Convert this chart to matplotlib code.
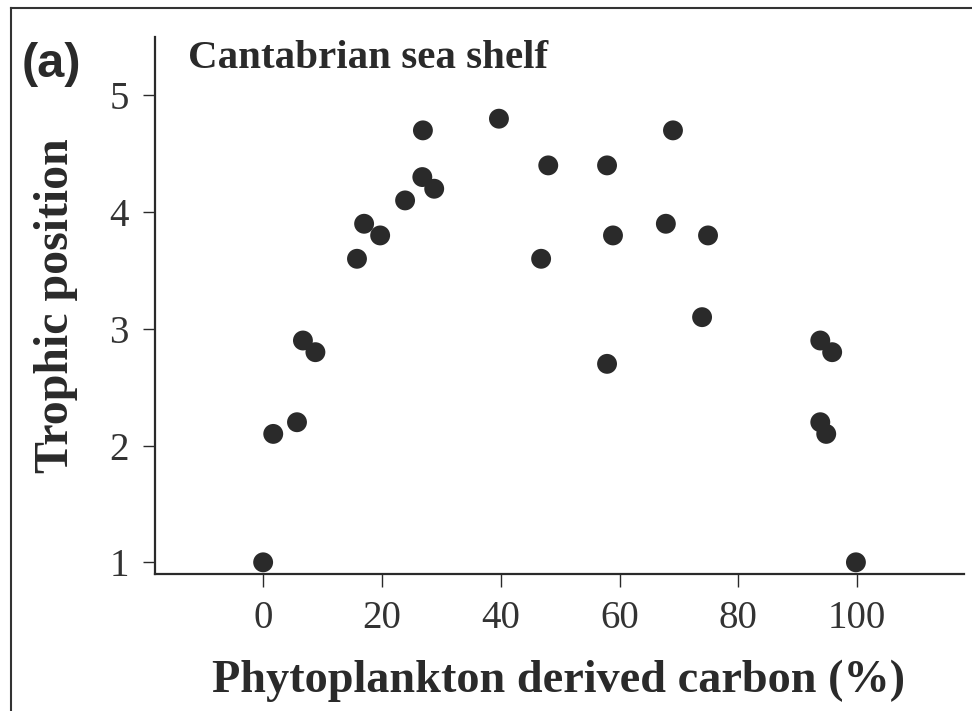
import matplotlib
matplotlib.use('Agg')
import matplotlib.pyplot as plt
from matplotlib.lines import Line2D

# ── Data ──────────────────────────────────────────────────────────────────────
phyto_carbon = [0, 1.7, 5.7, 6.7, 8.8, 15.8, 17.0, 19.7, 23.9, 26.9, 26.8, 28.8,
                39.7, 48.0, 57.9, 69.0, 46.8, 58.9, 67.8, 74.9, 73.9, 57.9,
                93.8, 95.8, 93.8, 94.8, 99.8]
trophic_pos = [1.0, 2.1, 2.2, 2.9, 2.8, 3.6, 3.9, 3.8, 4.1, 4.7, 4.3, 4.2,
               4.8, 4.4, 4.4, 4.7, 3.6, 3.8, 3.9, 3.8, 3.1, 2.7,
               2.9, 2.8, 2.2, 2.1, 1.0]
x_ticks = [0, 20, 40, 60, 80, 100]
y_ticks = [1, 2, 3, 4, 5]

INK = '#2a2a2a'
SERIF = ['Liberation Serif', 'DejaVu Serif']

fig = plt.figure(figsize=(9.72, 7.11), dpi=100)
ax = fig.add_axes([0.1595, 0.1927, 0.8323, 0.7553])

ax.scatter(phyto_carbon, trophic_pos, s=205, color=INK, edgecolors='none', zorder=3)

ax.set_xlim(-18.2, 118)
ax.set_ylim(0.9, 5.5)
ax.set_xticks(x_ticks)
ax.set_yticks(y_ticks)
ax.tick_params(direction='out', length=9, width=1.0, color=INK, pad=10,
               labelsize=28, labelcolor='#333333')
for lab in ax.get_xticklabels() + ax.get_yticklabels():
    lab.set_family(SERIF)
for side in ['top', 'right']:
    ax.spines[side].set_visible(False)
for side in ['left', 'bottom']:
    ax.spines[side].set_linewidth(1.6)
    ax.spines[side].set_color(INK)

# ── Texts ─────────────────────────────────────────────────────────────────────
fig.text(0.1934, 0.904, 'Cantabrian sea shelf', family=SERIF, fontweight='bold',
         fontsize=29.5, color=INK, ha='left', va='baseline')
fig.text(0.0226, 0.892, '(a)', family=['Liberation Sans', 'DejaVu Sans'],
         fontweight='bold', fontsize=35, color=INK, ha='left', va='baseline')
fig.text(0.575, 0.027, 'Phytoplankton derived carbon (%)', family=SERIF,
         fontweight='bold', fontsize=33.3, color=INK, ha='center', va='baseline')
fig.text(0.058, 0.57, 'Trophic position', family=SERIF, fontweight='bold',
         fontsize=34.5, color=INK, ha='center', va='center', rotation=90)

# ── Partial frame round the figure (left and top only) ───────────────────────
fig.add_artist(Line2D([0.0113, 0.0113], [0.0, 0.9887], transform=fig.transFigure,
                      color='#333333', linewidth=1.5))
fig.add_artist(Line2D([0.0113, 1.0], [0.9887, 0.9887], transform=fig.transFigure,
                      color='#333333', linewidth=1.5))

fig.savefig('out.png', dpi=100, facecolor='white')
